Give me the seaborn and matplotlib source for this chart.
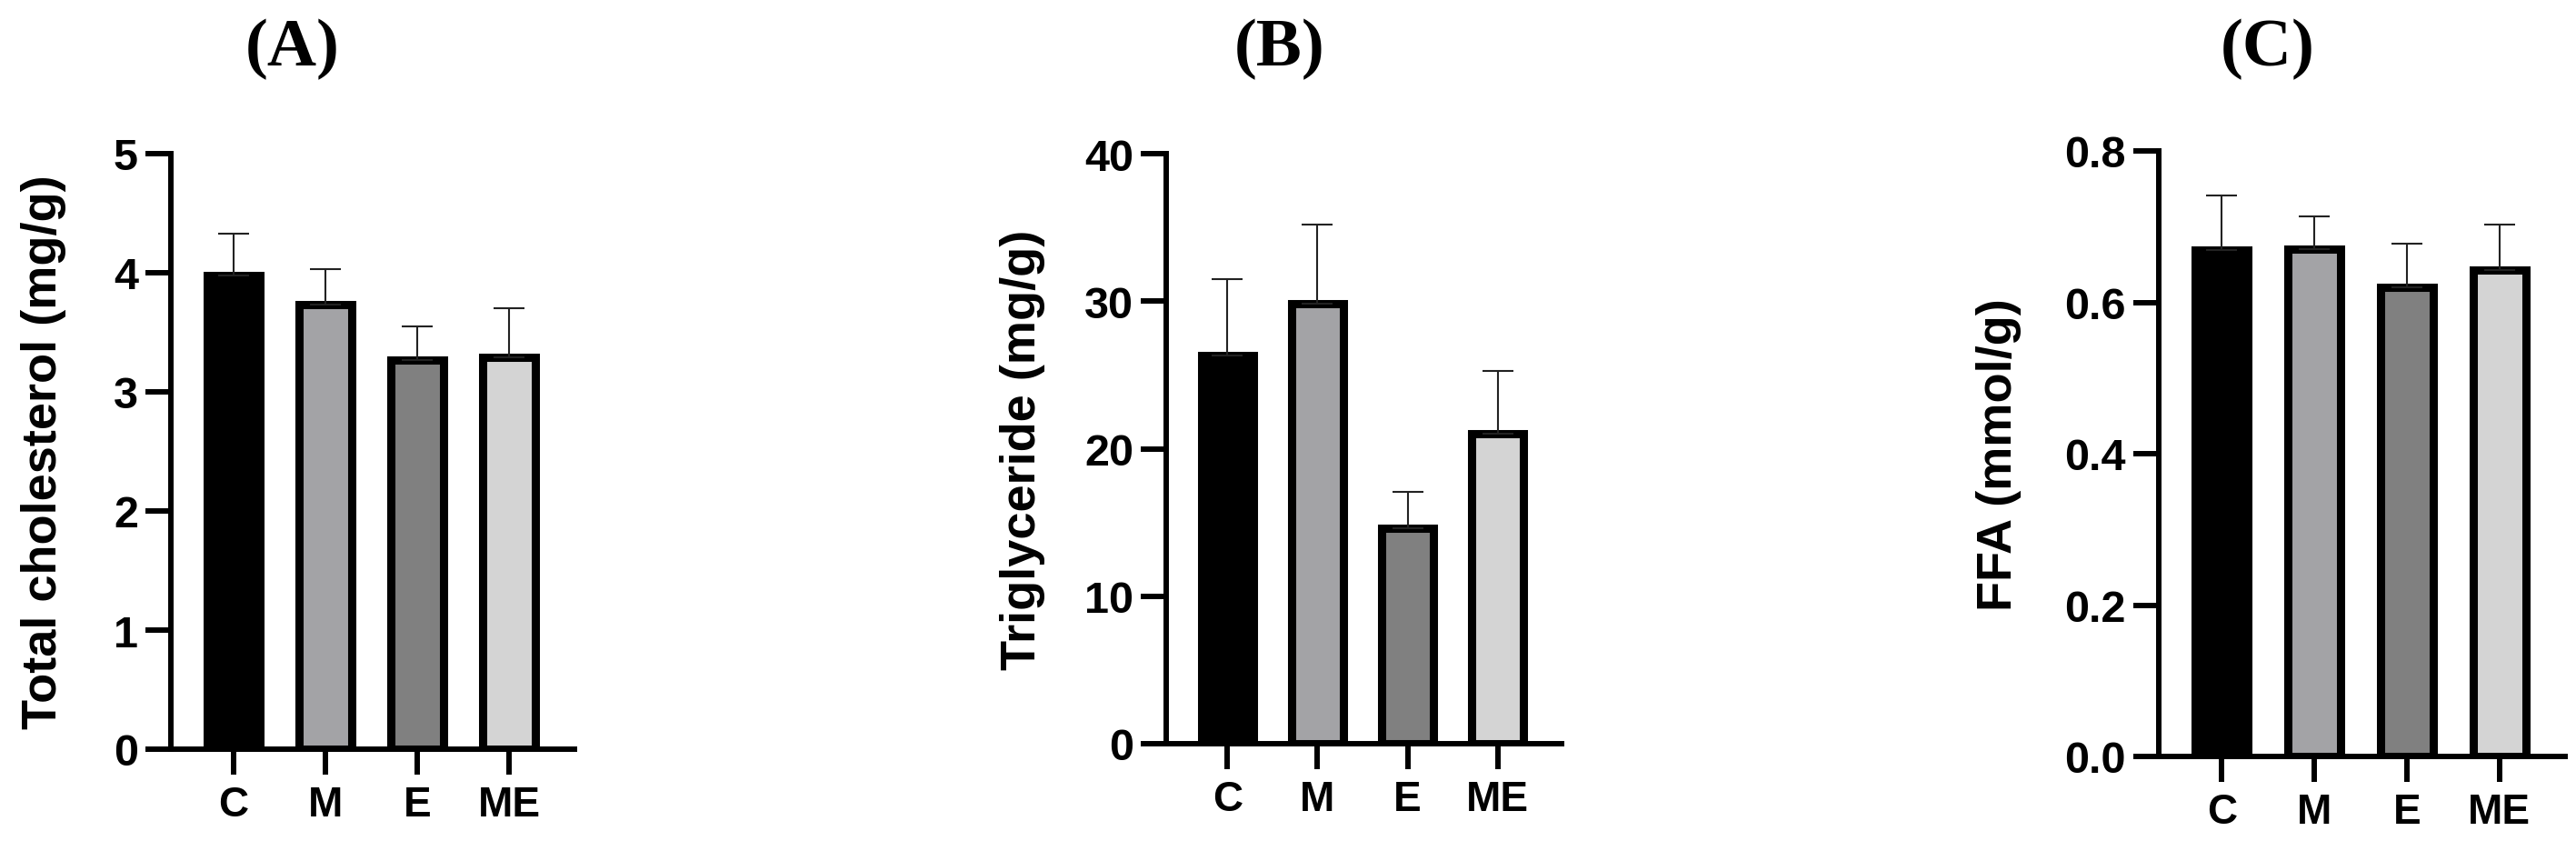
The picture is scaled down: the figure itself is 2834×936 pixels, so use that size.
import numpy as np
import seaborn as sns
import matplotlib.pyplot as plt

sns.set_style("ticks", {"axes.edgecolor": "black", "xtick.color": "black",
                        "ytick.color": "black", "text.color": "black",
                        "axes.labelcolor": "black"})
plt.rcParams['font.family'] = ['Liberation Sans', 'DejaVu Sans']

# data
groups = ["C", "M", "E", "ME"]
bar_colors = ["#000000", "#a3a3a6", "#808080", "#d4d4d4"]

chol_mean = [3.98, 3.73, 3.27, 3.29]
chol_sd = [0.35, 0.30, 0.28, 0.41]

tg_mean = [26.3, 29.8, 14.6, 21.0]
tg_sd = [5.2, 5.4, 2.5, 4.3]

ffa_mean = [0.669, 0.670, 0.620, 0.643]
ffa_sd = [0.072, 0.044, 0.058, 0.060]

chol_ticks = [0, 1, 2, 3, 4, 5]
tg_ticks = [0, 10, 20, 30, 40]
ffa_ticks = [0.0, 0.2, 0.4, 0.6, 0.8]

W, H = 2834, 937
fig = plt.figure(figsize=(W / 100, H / 100), dpi=100)

# (means, sd, ylabel, ticks, fmt, box px (l, r, t, b), ylabel x px, title, title x px)
panels = [
    (chol_mean, chol_sd, "Total cholesterol (mg/g)", chol_ticks, "{:.0f}",
     (188, 632, 170, 825), 48, "(A)", 322),
    (tg_mean, tg_sd, "Triglyceride (mg/g)", tg_ticks, "{:.0f}",
     (1283, 1718, 170, 819), 1125, "(B)", 1408),
    (ffa_mean, ffa_sd, "FFA (mmol/g)", ffa_ticks, "{:.1f}",
     (2375, 2822, 167, 833), 2199, "(C)", 2495),
]

for means, sd, ylabel, ticks, fmt, box, lab_x, title, title_x in panels:
    l, r, t, b = box
    ax = fig.add_axes([l / W, 1 - b / H, (r - l) / W, (b - t) / H])

    sns.barplot(x=groups, y=means, hue=groups, palette=bar_colors, width=0.57,
                edgecolor="black", linewidth=6.5, legend=False, ax=ax)
    ax.errorbar(range(len(groups)), means, yerr=[np.zeros(len(sd)), sd],
                fmt="none", ecolor="#222222", elinewidth=1.5,
                capsize=12, capthick=1.5)

    ax.set_xlim(-0.68, 3.71)
    ax.set_ylim(0, ticks[-1])
    ax.set_yticks(ticks)
    ax.set_yticklabels([fmt.format(v) for v in ticks])

    sns.despine(ax=ax)
    for s in ["left", "bottom"]:
        ax.spines[s].set_linewidth(4.3)
    ax.tick_params(axis="both", length=20, width=4.3)
    ax.tick_params(axis="y", labelsize=35, pad=6)
    ax.tick_params(axis="x", labelsize=33, pad=8)
    for lbl in ax.get_xticklabels() + ax.get_yticklabels():
        lbl.set_fontweight("bold")

    ax.set_xlabel("")
    ax.set_ylabel(ylabel, fontsize=39, fontweight="bold", va="center")
    ax.yaxis.set_label_coords((lab_x - l) / (r - l), 0.5)

    fig.text(title_x / W, 1 - 54 / H, title, family="Liberation Serif",
             weight="bold", fontsize=54, ha="center", va="center")

fig.savefig("out.png", dpi=100)
